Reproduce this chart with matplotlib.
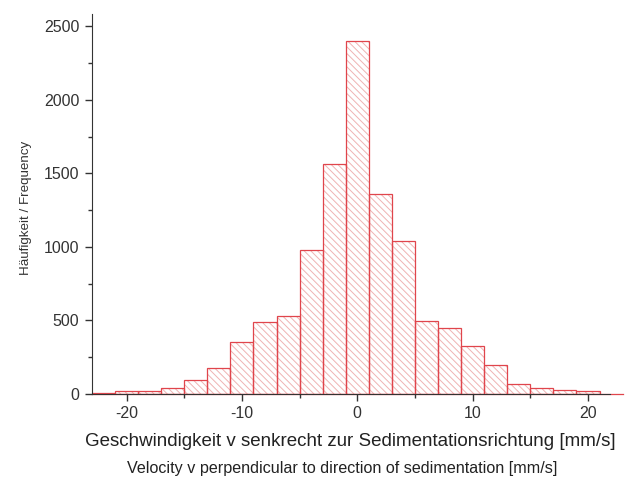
import numpy as np
import matplotlib
matplotlib.use("Agg")
import matplotlib.pyplot as plt

# ---------- Data ----------
bin_centers = [-22, -20, -18, -16, -14, -12, -10, -8, -6, -4, -2, 0,
               2, 4, 6, 8, 10, 12, 14, 16, 18, 20]
counts = [7, 17, 20, 42, 92, 175, 352, 490, 530, 978, 1565, 2402,
          1363, 1037, 495, 448, 327, 198, 68, 42, 27, 20]
bin_width = 2.0

xlabel_de = "Geschwindigkeit v senkrecht zur Sedimentationsrichtung [mm/s]"
xlabel_en = "Velocity v perpendicular to direction of sedimentation [mm/s]"
ylabel = "Häufigkeit / Frequency"

# ---------- Style ----------
plt.rcParams['font.family'] = ['Liberation Sans', 'DejaVu Sans']
plt.rcParams['axes.unicode_minus'] = False
plt.rcParams['hatch.linewidth'] = 0.7
edge_red = '#e0454c'
hatch_pink = '#efb3b3'

fig = plt.figure(figsize=(6.34, 4.78), dpi=100)
ax = fig.add_axes([0.145, 0.176, 0.817, 0.795])

# hatched fill (hatch takes the edge colour, so draw it separately)
ax.bar(bin_centers, counts, width=bin_width, facecolor='white',
       edgecolor=hatch_pink, hatch='\\\\\\\\\\', linewidth=0)
# red outlines
ax.bar(bin_centers, counts, width=bin_width, facecolor='none',
       edgecolor=edge_red, linewidth=0.9)

# red baseline running a bit past the axis
ax.plot([bin_centers[0] - 1, bin_centers[-1] + 3], [0, 0], color=edge_red,
        lw=0.9, clip_on=False, zorder=1)

ax.set_xlim(-23, 21.9)
ax.set_ylim(0, 2585)

ax.spines['top'].set_visible(False)
ax.spines['right'].set_visible(False)
ax.spines['left'].set_color('#333333')
ax.spines['bottom'].set_color('#333333')

ax.set_xticks([-20, -10, 0, 10, 20])
ax.set_xticks([-15, -5, 5, 15], minor=True)
ax.set_yticks([0, 500, 1000, 1500, 2000, 2500])
ax.set_yticks([250, 750, 1250, 1750, 2250], minor=True)
ax.tick_params(axis='both', which='major', direction='out', length=5,
               width=1.0, labelsize=11.5, colors='#333333')
ax.tick_params(axis='both', which='minor', direction='out', length=3,
               width=1.0, colors='#333333')
ax.tick_params(axis='y', which='major', pad=4)
ax.tick_params(axis='x', which='major', pad=4)

ax.set_ylabel(ylabel, fontsize=9.6, color='#333333')
ax.yaxis.set_label_coords(-0.115, 0.49)

fig.text(0.553, 0.077, xlabel_de, ha='center', va='center',
         fontsize=13.5, color='#222222')
fig.text(0.540, 0.020, xlabel_en, ha='center', va='center',
         fontsize=11.6, color='#222222')

fig.savefig('out.png', dpi=100)
